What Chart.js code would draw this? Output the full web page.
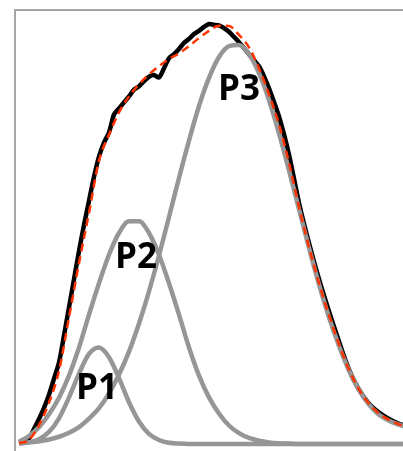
<!DOCTYPE html>
<html>
<head>
<meta charset="utf-8">
<script src="https://cdn.jsdelivr.net/npm/chart.js@4.4.1/dist/chart.umd.min.js"></script>
<style>
  html, body { margin: 0; padding: 0; background: #fff; overflow: hidden; }
  #peakChart { position: absolute; left: 0; top: 0; }
</style>
</head>
<body>
<canvas id="peakChart" width="430" height="480"></canvas>
<script>
// channel grid shared by the three fitted peaks and the fit sum
const channels = [4, 14, 24, 34, 44, 54, 64, 74, 84, 94, 104, 114, 124, 134, 144, 154, 164, 174, 184, 194,
    204, 214, 224, 234, 244, 254, 264, 274, 284, 294, 304, 314, 324, 334, 344, 354, 364, 374, 384, 394, 404];

const p1Values = [0.1, 0.4, 1.2, 3.0, 6.4, 11.6, 17.5, 22.4, 24.0, 21.6, 16.4, 10.4, 5.6, 2.5, 1.0, 0.3, 0.1,
    0, 0, 0, 0, 0, 0, 0, 0, 0, 0, 0, 0, 0, 0, 0, 0, 0, 0, 0, 0, 0, 0, 0, 0];

const p2Values = [0.5, 2.0, 4.2, 7.4, 11.5, 17.0, 24.0, 32.2, 40.0, 47.1, 52.5, 55.4, 55.4, 52.5, 47.1, 40.0,
    32.2, 24.0, 17.0, 11.6, 7.6, 4.6, 2.7, 1.5, 0.8, 0.4, 0.2, 0.1, 0, 0, 0, 0, 0, 0, 0, 0, 0, 0, 0, 0, 0];

const p3Values = [0.2, 0.4, 0.7, 1.1, 1.8, 2.8, 4.2, 6.3, 8.9, 12.6, 17.3, 23.0, 30.0, 38.0, 46.9, 56.5, 66.2,
    75.5, 84.1, 91.1, 96.3, 99.0, 99.3, 97.0, 92.3, 85.6, 77.3, 68.1, 58.4, 48.8, 39.7, 31.5, 24.4, 18.3,
    13.5, 9.8, 7.3, 5.8, 4.8, 4.0, 3.4];

const fitValues = [0.2, 1.0, 4.7, 10.3, 18.2, 31.5, 45.0, 57.5, 70.5, 77.0, 82.5, 86.5, 89.5, 92.0, 94.0, 95.8,
    97.2, 99.0, 101.0, 102.8, 104.1, 104.0, 101.8, 98.7, 93.5, 87.0, 79.5, 70.0, 59.0, 49.0, 40.0, 32.0, 24.8,
    18.5, 13.6, 10.0, 7.6, 6.0, 4.9, 4.1, 3.5];

// measured curve, sampled finer where it is noisy
const measuredChannels = [4, 9, 14, 19, 24, 29, 34, 39, 44, 49, 54, 59, 64, 69, 74, 79, 84, 89, 94, 99,
    104, 109, 114, 119, 124, 129, 134, 139, 144, 149, 154, 159, 164, 169, 174, 179, 184, 189, 194, 199,
    204, 209, 214, 219, 224, 229, 234, 239, 244, 249, 254,
    264, 274, 284, 294, 304, 314, 324, 334, 344, 354, 364, 374, 384, 394, 404];

const measuredValues = [0.3, 0.6, 1.4, 3.75, 6.2, 9.0, 12.25, 16.25, 20.3, 27.0, 34.0, 41.0, 48.0, 54.5, 60.5,
    66.5, 71.5, 75.0, 77.5, 82.0, 83.5, 85.0, 86.5, 88.2, 89.0, 90.3, 91.4, 91.8, 91.2, 93.5, 96.0, 97.0, 98.3,
    99.8, 100.8, 102.0, 102.8, 103.8, 104.5, 104.3, 104.2, 103.5, 102.6, 101.3, 100.0, 98.5, 97.0, 95.5, 94.0,
    91.5, 88.5,
    81.5, 72.0, 60.0, 50.0, 41.0, 33.0, 25.5, 18.5, 13.5, 10.0, 7.8, 6.2, 5.0, 4.2, 3.5];

const peakLabels = ['P1', 'P2', 'P3'];
const peakLabelX = [82, 121, 224];
const peakLabelY = [11.25, 43.75, 85.5];

let chart;

function toPoints(xs, ys) {
    return xs.map((x, i) => ({ x: x, y: ys[i] }));
}

function peakDataset(label, values) {
    return {
        label: label,
        data: toPoints(channels, values),
        borderColor: '#969696',
        borderWidth: 4.5,
        cubicInterpolationMode: 'monotone',
        fill: false
    };
}

// writes P1/P2/P3 next to their peaks
const peakLabelPlugin = {
    id: 'peakLabels',
    afterDatasetsDraw(chart) {
        const ctx = chart.ctx;
        const xScale = chart.scales.x;
        const yScale = chart.scales.y;
        ctx.save();
        ctx.font = 'bold 35px "Open Sans"';
        ctx.fillStyle = '#000';
        ctx.textAlign = 'center';
        ctx.textBaseline = 'alphabetic';
        peakLabels.forEach((text, i) => {
            ctx.fillText(text, xScale.getPixelForValue(peakLabelX[i]), yScale.getPixelForValue(peakLabelY[i]));
        });
        ctx.restore();
    }
};

function hiddenAxis(extra) {
    return Object.assign({
        type: 'linear',
        ticks: { display: false },
        grid: { display: false, drawTicks: false },
        border: { display: true, color: '#a5a5a5', width: 2 }
    }, extra);
}

function initializeChart() {
    const canvas = document.getElementById('peakChart');

    chart = new Chart(canvas, {
        type: 'line',
        data: {
            datasets: [
                {
                    label: 'Fit',
                    data: toPoints(channels, fitValues),
                    borderColor: '#ff3300',
                    borderWidth: 2.5,
                    borderDash: [8, 5],
                    cubicInterpolationMode: 'monotone',
                    fill: false
                },
                peakDataset('P1', p1Values),
                peakDataset('P2', p2Values),
                peakDataset('P3', p3Values),
                {
                    label: 'Measured',
                    data: toPoints(measuredChannels, measuredValues),
                    borderColor: '#000000',
                    borderWidth: 4.5,
                    tension: 0.25,
                    fill: false
                }
            ]
        },
        options: {
            responsive: false,
            animation: false,
            layout: { padding: { left: 15, top: 10, right: 15, bottom: 15 } },
            elements: { point: { radius: 0 } },
            plugins: {
                legend: { display: false },
                tooltip: { enabled: false }
            },
            scales: {
                x: hiddenAxis({ min: 0, max: 400, border: { display: false } }),
                xTop: hiddenAxis({ axis: 'x', position: 'top', min: 0, max: 400 }),
                y: hiddenAxis({ min: -5.23, max: 108 })
            }
        },
        plugins: [peakLabelPlugin]
    });
}

initializeChart();
</script>
</body>
</html>
